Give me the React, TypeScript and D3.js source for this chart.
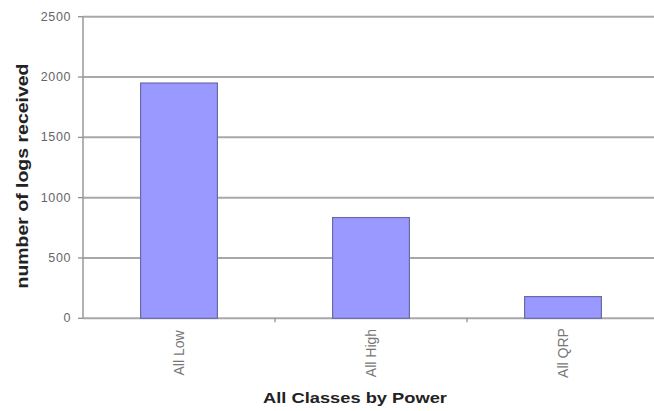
import React from "react";
import * as d3 from "d3";

const categories = ["All Low", "All High", "All QRP"];
const values = [1950, 835, 180];
const yTicks = [0, 500, 1000, 1500, 2000, 2500];
const yTitle = "number of logs received";
const xTitle = "All Classes by Power";

export default function App() {
  const W = 654, H = 411;
  const left = 83, top = 16.7, bottom = 318.3;
  const band = 192;
  const x = d3.scaleBand<string>().domain(categories).range([left, left + band * 3]).paddingInner(0).paddingOuter(0);
  const y = d3.scaleLinear().domain([0, 2500]).range([bottom, top]);
  const barW = x.bandwidth() / 2.5;
  const grid = "#a8a8a8";
  const font = "Arial, 'Liberation Sans', sans-serif";
  return (
    <svg width={W} height={H} style={{ position: "absolute", left: 0, top: 0, background: "#fff" }}>
      {yTicks.map((t) => (
        <g key={t}>
          <line x1={left} x2={W + 10} y1={y(t)} y2={y(t)} stroke={grid} strokeWidth={2} />
          <line x1={left - 5} x2={left} y1={y(t)} y2={y(t)} stroke="#888" strokeWidth={1.2} />
          <text x={71} y={y(t)} textAnchor="end" dominantBaseline="central" fontFamily={font} fontSize={12.5} letterSpacing={0.6} fill="#666">
            {t}
          </text>
        </g>
      ))}
      <line x1={left} x2={left} y1={top} y2={bottom} stroke="#999" strokeWidth={1.5} />
      {categories.map((c, i) => (
        <line key={"t" + i} x1={x(c)! + band} x2={x(c)! + band} y1={bottom} y2={bottom + 4} stroke="#888" strokeWidth={1.2} />
      ))}
      {categories.map((c, i) => {
        const cx = x(c)! + x.bandwidth() / 2;
        return (
          <g key={c}>
            <rect x={cx - barW / 2} y={y(values[i])} width={barW} height={bottom - y(values[i])} fill="#9999ff" stroke="#6a6aa8" strokeWidth={1.2} />
            <text transform={`translate(${cx + 5},353) rotate(-90)`} textAnchor="middle" fontFamily={font} fontSize={14} fill="#777">
              {c}
            </text>
          </g>
        );
      })}
      <text transform={`translate(22,176) rotate(-90)`} textAnchor="middle" dominantBaseline="central" fontFamily={font} fontSize={16} fontWeight="bold" fill="#222" textLength={225} lengthAdjust="spacingAndGlyphs">
        {yTitle}
      </text>
      <text x={355} y={403} textAnchor="middle" fontFamily={font} fontSize={15.5} fontWeight="bold" fill="#222" textLength={184} lengthAdjust="spacingAndGlyphs">
        {xTitle}
      </text>
    </svg>
  );
}
